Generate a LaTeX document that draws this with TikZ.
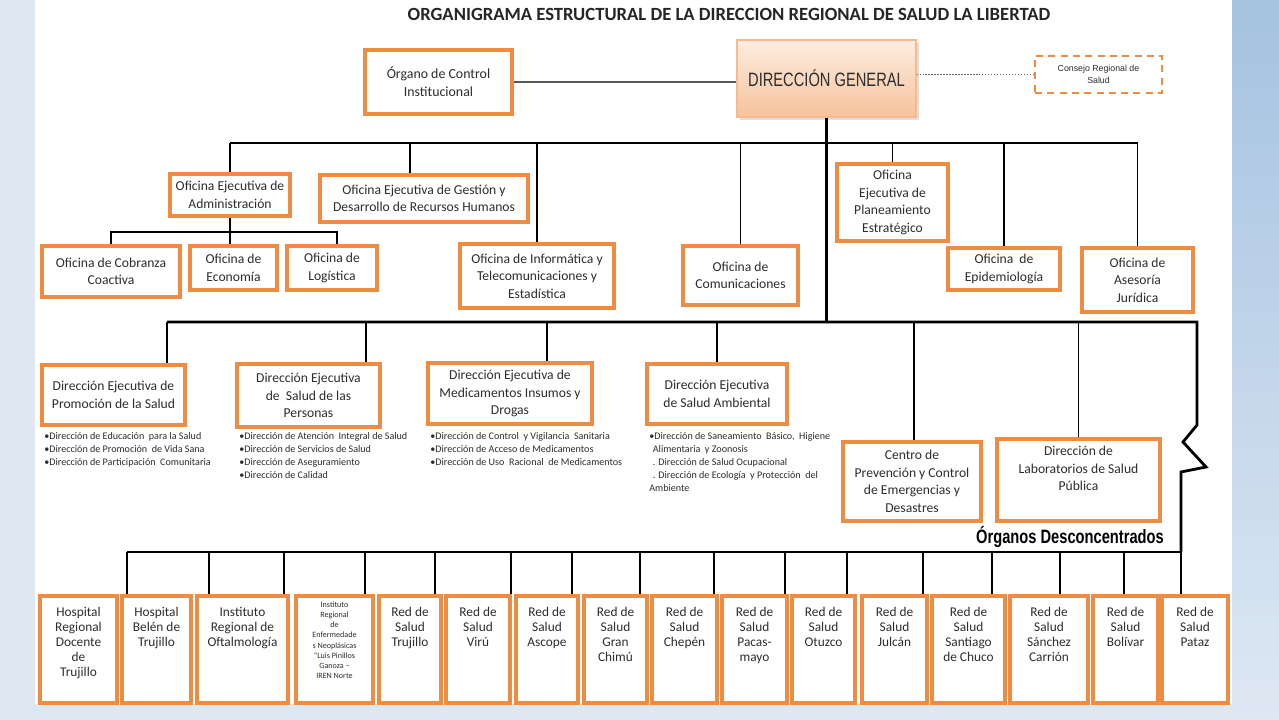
\documentclass[tikz,border=0pt]{standalone}
\usepackage{fontspec}
\setmainfont{Carlito}
\newfontfamily\narrowfont[FakeStretch=0.76]{Liberation Sans}
\newfontfamily\arialfont{Liberation Sans}
\usepackage{tikz}
\usetikzlibrary{positioning, shadows}

\definecolor{boxorange}{RGB}{240,140,66}
\definecolor{txtgray}{RGB}{45,45,45}
\definecolor{dgtop}{RGB}{253,237,224}
\definecolor{dgbottom}{RGB}{246,194,156}
\definecolor{bgpale}{RGB}{222,232,243}
\definecolor{bgblue}{RGB}{165,194,225}

\newlength{\pxu}
\setlength{\pxu}{0.02cm}
\newcommand{\netlabel}[2]{\parbox[c][1.7cm][t]{#1\pxu}{\centering #2}}

\tikzset{
	wh/.style 2 args={minimum width=#1*\pxu, minimum height=#2*\pxu}
}

\begin{document}
\begin{tikzpicture}[
			x=0.02cm, y=-0.02cm,
			unit/.style={
				rectangle,
				draw=boxorange,
				fill=white,
				line width=2.3pt,
				text=txtgray,
				align=center,
				inner sep=1pt,
				font=\fontsize{7.75}{10}\selectfont
			},
			netbox/.style={unit, font=\fontsize{7.6}{8.6}\selectfont},
			sublist/.style={
				anchor=north west,
				align=left,
				inner sep=0pt,
				text=txtgray,
				font=\fontsize{5.75}{7.4}\selectfont
			},
			bus/.style={line width=1.6pt},
			link/.style={line width=0.85pt}
			]
			
			% Background
			\fill[bgpale] (0,0) rectangle (1279,720);
			\shade[top color=bgblue, bottom color=bgpale] (1232,0) rectangle (1279,720);
			\fill[white] (35,0) rectangle (1232,704);
			\useasboundingbox (0,0) rectangle (1279,720);
			
			% Title
			\node[font=\bfseries\fontsize{10.6}{12}\selectfont, text=black!85] (title) at (729,14)
				{ORGANIGRAMA ESTRUCTURAL DE LA DIRECCION REGIONAL DE SALUD LA LIBERTAD};
			
			% Top level: Direccion General
			\node[wh={179}{77}, draw=boxorange!60, line width=0.6pt,
				top color=dgtop, bottom color=dgbottom,
				drop shadow={opacity=0.25, shadow xshift=1.5pt, shadow yshift=-1.5pt},
				text=txtgray, font=\narrowfont\fontsize{11}{13}\selectfont] (dg) at (826.5,78.5) {DIRECCIÓN GENERAL};
			
			% Organo de Control
			\node[unit, wh={147}{64}, font=\fontsize{7.9}{10.2}\selectfont] (ctrl) at (438.5,82) {Órgano de Control\\Institucional};
			
			\draw[link, draw=black!65] (ctrl.east) -- (ctrl.east -| dg.west);
			
			% Consejo Regional
			\node[unit, wh={127}{37}, line width=1.1pt, dashed, dash pattern=on 4pt off 3pt,
				font=\arialfont\fontsize{5}{6.8}\selectfont] (cons) at (1098.5,74.5) {Consejo Regional de\\Salud};
			
			\draw[densely dotted, draw=black!60, line width=0.7pt] (dg.east |- cons.west) -- (cons.west);
			
			% Main line down from Direccion General
			\coordinate (bus1) at (828,143);
			\coordinate (bus2) at (828,322);
			\coordinate (bus3) at (650,552);
			\coordinate (bus1a) at (230,232);
			\draw[line width=1.3pt] (dg.south) -- (bus2 -| dg.south);
			
			% Block 1: Oficinas
			\node[unit, wh={120}{42}] (admin) at (230,195) {Oficina Ejecutiva de\\Administración};
			\node[unit, wh={208}{47}] (gest) at (424,198.5) {Oficina Ejecutiva de Gestión y\\Desarrollo de Recursos Humanos};
			\node[unit, wh={154}{64}] (info) at (537,276) {Oficina de Informática y\\Telecomunicaciones y\\Estadística};
			\node[unit, wh={115}{59}] (comu) at (740.5,275.5) {Oficina de\\Comunicaciones};
			\node[unit, wh={111}{77}] (plan) at (892.5,202.5) {Oficina\\Ejecutiva de\\Planeamiento\\Estratégico};
			\node[unit, wh={112}{42}] (epid) at (1004,269) {Oficina \ de\\Epidemiología};
			\node[unit, wh={111}{64}] (ases) at (1137.5,280) {Oficina de\\Asesoría\\Jurídica};
			
			\draw[bus] (admin.north |- bus1) -- (ases.north |- bus1);
			\draw[link] (admin.north |- bus1) -- (admin.north);
			\draw[link] (bus1 -| 410,0) -- (gest.north -| 410,0);
			\draw[link] (info.north |- bus1) -- (info.north);
			\draw[link] (comu.north |- bus1) -- (comu.north);
			\draw[link] (plan.north |- bus1) -- (plan.north);
			\draw[link] (epid.north |- bus1) -- (epid.north);
			\draw[link] (ases.north |- bus1) -- (ases.north);
			
			% Block 2: Oficinas de Administracion
			\node[unit, wh={138}{51}] (cobr) at (111,271.5) {Oficina de Cobranza\\Coactiva};
			\node[unit, wh={87}{44}] (econ) at (233.5,268) {Oficina de\\Economía};
			\node[unit, wh={90}{44}] (logi) at (332,268) {Oficina de\\Logística};
			
			\draw[line width=1.1pt] (cobr.north) -- (cobr.north |- bus1a) -- (bus1a -| 337,0) -- (logi.north -| 337,0);
			\draw[line width=1.1pt] (admin.south) -- (econ.north -| admin.south);
			
			% Block 3: Direcciones Ejecutivas
			\node[unit, wh={143}{60}] (prom) at (113.5,395) {Dirección Ejecutiva de\\Promoción de la Salud};
			\node[unit, wh={143}{63}] (pers) at (308.5,395.5) {Dirección Ejecutiva\\de \ Salud de las\\Personas};
			\node[unit, wh={164}{61}] (medi) at (510,393.5) {Dirección Ejecutiva de\\Medicamentos Insumos y\\Drogas};
			\node[unit, wh={140}{60}] (ambi) at (717,394) {Dirección Ejecutiva\\de Salud Ambiental};
			\node[unit, wh={138}{79}] (cent) at (912,481.5) {Centro de\\Prevención y Control\\de Emergencias y\\Desastres};
			\node[unit, wh={163}{82}] (labo) at (1078.5,480) {Dirección de\\Laboratorios de Salud\\Pública\\[3pt]};
			
			\draw[bus] (bus2 -| 167,0) -- (bus2 -| 1197,0) -- (1197,425) -- ++(-14,17) -- ++(23,25) -- ++(-25,5) -- (bus3 -| 1181,0);
			\draw[link] (bus2 -| 167,0) -- (prom.north -| 167,0);
			\draw[link] (bus2 -| 366,0) -- (pers.north -| 366,0);
			\draw[link] (bus2 -| 547,0) -- (medi.north -| 547,0);
			\draw[link] (ambi.north |- bus2) -- (ambi.north);
			\draw[link] (bus2 -| 914,0) -- (cent.north -| 914,0);
			\draw[link] (labo.north |- bus2) -- (labo.north);
			
			% Sub-direcciones
			\node[sublist] (promlist) at (44,432) {•Dirección de Educación \ para la Salud\\•Dirección de Promoción \ de Vida Sana\\•Dirección de Participación \ Comunitaria};
			\node[sublist] (perslist) at (239,432) {•Dirección de Atención \ Integral de Salud\\•Dirección de Servicios de Salud\\•Dirección de Aseguramiento\\•Dirección de Calidad};
			\node[sublist] (medilist) at (430,432) {•Dirección de Control \ y Vigilancia \ Sanitaria\\•Dirección de Acceso de Medicamentos\\•Dirección de Uso \ Racional \ de Medicamentos};
			\node[sublist] (ambilist) at (649,432) {•Dirección de Saneamiento \ Básico, \ Higiene\\\hspace*{2pt}Alimentaria \ y Zoonosis\\\hspace*{2pt}. Dirección de Salud Ocupacional\\\hspace*{2pt}. Dirección de Ecología \ y Protección \ del\\Ambiente};
			
			% Organos Desconcentrados
			\node[font=\narrowfont\bfseries\fontsize{11}{13}\selectfont] (desc) at (1070,537) {Órganos Desconcentrados};
			
			\node[netbox, wh={77}{107}] (hrdt) at (78.5,649.5) {\netlabel{70}{Hospital\\Regional\\Docente\\de\\Trujillo}};
			\node[netbox, wh={69}{107}] (belen) at (156.5,649.5) {\netlabel{62}{Hospital\\Belén de\\Trujillo}};
			\node[netbox, wh={91}{107}] (ofta) at (242.5,649.5) {\netlabel{84}{Instituto\\Regional de\\Oftalmología}};
			\node[netbox, wh={77}{107}, font=\fontsize{4.6}{5.8}\selectfont] (iren) at (334.5,649.5) {\netlabel{70}{\vspace*{-3pt}Instituto\\Regional\\de\\Enfermedade\\s Neoplásicas\\“Luis Pinillos\\Ganoza –\\IREN Norte}};
			\node[netbox, wh={62}{107}] (rtru) at (410,649.5) {\netlabel{55}{Red de\\Salud\\Trujillo}};
			\node[netbox, wh={64}{107}] (viru) at (478,649.5) {\netlabel{57}{Red de\\Salud\\Virú}};
			\node[netbox, wh={62}{107}] (asco) at (547,649.5) {\netlabel{55}{Red de\\Salud\\Ascope}};
			\node[netbox, wh={63}{107}] (gchi) at (615.5,649.5) {\netlabel{56}{Red de\\Salud\\Gran\\Chimú}};
			\node[netbox, wh={65}{107}] (chep) at (684.5,649.5) {\netlabel{58}{Red de\\Salud\\Chepén}};
			\node[netbox, wh={65}{107}] (paca) at (754.5,649.5) {\netlabel{58}{Red de\\Salud\\Pacas-\\mayo}};
			\node[netbox, wh={63}{107}] (otuz) at (823.5,649.5) {\netlabel{56}{Red de\\Salud\\Otuzco}};
			\node[netbox, wh={65}{107}] (julc) at (894.5,649.5) {\netlabel{58}{Red de\\Salud\\Julcán}};
			\node[netbox, wh={73}{107}] (stgo) at (968.5,649.5) {\netlabel{66}{Red de\\Salud\\Santiago\\de Chuco}};
			\node[netbox, wh={78}{107}] (sanc) at (1049,649.5) {\netlabel{71}{Red de\\Salud\\Sánchez\\Carrión}};
			\node[netbox, wh={65}{107}] (boli) at (1125.5,649.5) {\netlabel{58}{Red de\\Salud\\Bolívar}};
			\node[netbox, wh={66}{107}] (pata) at (1195,649.5) {\netlabel{59}{Red de\\Salud\\Pataz}};
			
			\draw[bus] (bus3 -| 127,0) -- (bus3 -| 1181,0);
			\draw[link] (bus3 -| 127,0) -- (belen.north -| 127,0);
			\draw[link] (bus3 -| 209,0) -- (ofta.north -| 209,0);
			\draw[link] (bus3 -| 284,0) -- (ofta.north -| 284,0);
			\draw[link] (bus3 -| 365,0) -- (iren.north -| 365,0);
			\draw[link] (bus3 -| 435,0) -- (rtru.north -| 435,0);
			\draw[link] (bus3 -| 511,0) -- (viru.north -| 511,0);
			\draw[link] (bus3 -| 572,0) -- (asco.north -| 572,0);
			\draw[link] (bus3 -| 640,0) -- (gchi.north -| 640,0);
			\draw[link] (bus3 -| 714,0) -- (chep.north -| 714,0);
			\draw[link] (bus3 -| 785,0) -- (paca.north -| 785,0);
			\draw[link] (bus3 -| 847,0) -- (otuz.north -| 847,0);
			\draw[link] (bus3 -| 923,0) -- (julc.north -| 923,0);
			\draw[link] (bus3 -| 992,0) -- (stgo.north -| 992,0);
			\draw[link] (bus3 -| 1060,0) -- (sanc.north -| 1060,0);
			\draw[link] (bus3 -| 1124,0) -- (boli.north -| 1124,0);
			\draw[link] (bus3 -| 1181,0) -- (pata.north -| 1181,0);
			
		\end{tikzpicture}
\end{document}
